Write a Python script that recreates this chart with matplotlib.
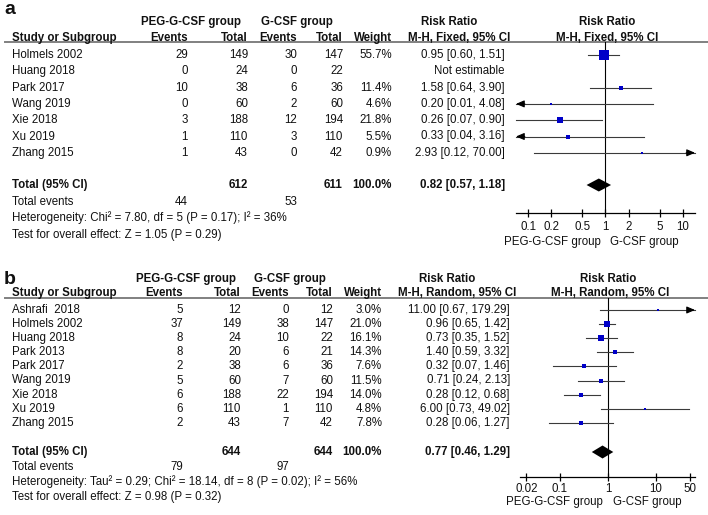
import numpy as np
import matplotlib
matplotlib.use('Agg')
import matplotlib.pyplot as plt
from matplotlib.ticker import NullLocator

plt.rcParams['font.family'] = ['Liberation Sans', 'DejaVu Sans']

W, H = 708, 515
FS = 8.3
BLUE = '#0000c8'
LINE = '#3a3a3a'

# ---- panel a : fixed effect ----
studies_a = ['Holmels 2002', 'Huang 2018', 'Park 2017', 'Wang 2019', 'Xie 2018', 'Xu 2019', 'Zhang 2015']
peg_events_a = [29, 0, 10, 0, 3, 1, 1]
peg_total_a = [149, 24, 38, 60, 188, 110, 43]
gcsf_events_a = [30, 0, 6, 2, 12, 3, 0]
gcsf_total_a = [147, 22, 36, 60, 194, 110, 42]
weight_a = [55.7, None, 11.4, 4.6, 21.8, 5.5, 0.9]
rr_a = [0.95, None, 1.58, 0.20, 0.26, 0.33, 2.93]
lo_a = [0.60, None, 0.64, 0.01, 0.07, 0.04, 0.12]
hi_a = [1.51, None, 3.90, 4.08, 0.90, 3.16, 70.00]
total_a = (0.82, 0.57, 1.18)
het_a = 'Heterogeneity: Chi\u00b2 = 7.80, df = 5 (P = 0.17); I\u00b2 = 36%'
test_a = 'Test for overall effect: Z = 1.05 (P = 0.29)'
ticks_a = [0.1, 0.2, 0.5, 1, 2, 5, 10]
ticklabels_a = ['0.1', '0.2', '0.5', '1', '2', '5', '10']

# ---- panel b : random effects ----
studies_b = ['Ashrafi  2018', 'Holmels 2002', 'Huang 2018', 'Park 2013', 'Park 2017',
             'Wang 2019', 'Xie 2018', 'Xu 2019', 'Zhang 2015']
peg_events_b = [5, 37, 8, 8, 2, 5, 6, 6, 2]
peg_total_b = [12, 149, 24, 20, 38, 60, 188, 110, 43]
gcsf_events_b = [0, 38, 10, 6, 6, 7, 22, 1, 7]
gcsf_total_b = [12, 147, 22, 21, 36, 60, 194, 110, 42]
weight_b = [3.0, 21.0, 16.1, 14.3, 7.6, 11.5, 14.0, 4.8, 7.8]
rr_b = [11.00, 0.96, 0.73, 1.40, 0.32, 0.71, 0.28, 6.00, 0.28]
lo_b = [0.67, 0.65, 0.35, 0.59, 0.07, 0.24, 0.12, 0.73, 0.06]
hi_b = [179.29, 1.42, 1.52, 3.32, 1.46, 2.13, 0.68, 49.02, 1.27]
total_b = (0.77, 0.46, 1.29)
het_b = 'Heterogeneity: Tau\u00b2 = 0.29; Chi\u00b2 = 18.14, df = 8 (P = 0.02); I\u00b2 = 56%'
test_b = 'Test for overall effect: Z = 0.98 (P = 0.32)'
ticks_b = [0.02, 0.1, 1, 10, 50]
ticklabels_b = ['0.02', '0.1', '1', '10', '50']

fig = plt.figure(figsize=(W / 100, H / 100), dpi=100)
bg = fig.add_axes([0, 0, 1, 1])
bg.set_xlim(0, W)
bg.set_ylim(H, 0)
bg.axis('off')


def txt(x, y, s, ha='right', bold=False, size=FS):
    bg.text(x, y, s, ha=ha, va='center', fontsize=size,
            fontweight='bold' if bold else 'normal', color='#111111')


def panel(letter, L, studies, pe, pt, ge, gt, wt, rr, lo, hi, tot, het, test, method,
          ticks, ticklabels, xlim):
    c = L['cols']
    txt(4, L['letter'], letter, ha='left', bold=True, size=14)
    txt(L['g1'], L['h1'], 'PEG-G-CSF group', ha='center', bold=True)
    txt(L['g2'], L['h1'], 'G-CSF group', ha='center', bold=True)
    txt(L['rr1'], L['h1'], 'Risk Ratio', ha='center', bold=True)
    txt(L['rr2'], L['h1'], 'Risk Ratio', ha='center', bold=True)
    txt(12, L['h2'], 'Study or Subgroup', ha='left', bold=True)
    for x, s in zip(c[:5], ['Events', 'Total', 'Events', 'Total', 'Weight']):
        txt(x, L['h2'], s, bold=True)
    txt(L['mh1'], L['h2'], method, ha='center', bold=True)
    txt(L['mh2'], L['h2'], method, ha='center', bold=True)
    bg.plot([5, W], [L['rule'], L['rule']], color='#808080', lw=1.4)

    # forest axes, y in the same pixel units as the text
    x0, x1, ay = L['ax0'], L['ax1'], L['axis']
    ax = fig.add_axes([x0 / W, 1 - ay / H, (x1 - x0) / W, (ay - L['rule']) / H])
    ax.set_xscale('log')
    ax.set_xlim(xlim)
    ax.set_ylim(ay, L['rule'])
    ax.patch.set_alpha(0)
    for s in ['top', 'left', 'right']:
        ax.spines[s].set_visible(False)
    ax.spines['bottom'].set_linewidth(0.9)
    ax.set_yticks([])
    ax.set_xticks(ticks)
    ax.set_xticklabels(ticklabels)
    ax.xaxis.set_minor_locator(NullLocator())
    ax.tick_params(axis='x', direction='inout', length=6, width=0.9, pad=L['pad'],
                   labelsize=FS, labelcolor='#111111')
    ax.axvline(1, color='k', lw=0.8)

    for i, name in enumerate(studies):
        y = L['row0'] + i * L['dy']
        txt(12, y, name, ha='left')
        txt(c[0], y, str(pe[i]))
        txt(c[1], y, str(pt[i]))
        txt(c[2], y, str(ge[i]))
        txt(c[3], y, str(gt[i]))
        if rr[i] is None:
            txt(c[5], y, 'Not estimable')
            continue
        txt(c[4], y, '%.1f%%' % wt[i])
        txt(c[5], y, '%.2f [%.2f, %.2f]' % (rr[i], lo[i], hi[i]))
        a = max(lo[i], xlim[0])
        b = min(hi[i], xlim[1])
        ax.plot([a, b], [y, y], color=LINE, lw=0.8, clip_on=False)
        head = dict(arrowstyle='-|>,head_length=0.7,head_width=0.3', color='k',
                    lw=0.8, mutation_scale=7, shrinkA=0, shrinkB=0)
        if lo[i] < xlim[0]:
            ax.annotate('', xy=(xlim[0], y), xytext=(xlim[0] * 1.3, y), arrowprops=head,
                        annotation_clip=False)
        if hi[i] > xlim[1]:
            ax.annotate('', xy=(xlim[1], y), xytext=(xlim[1] / 1.3, y), arrowprops=head,
                        annotation_clip=False)
        side = max(2.0, 1.3 * np.sqrt(wt[i])) * 0.72
        ax.scatter([rr[i]], [y], marker='s', s=side ** 2, color=BLUE, linewidths=0,
                   zorder=3, clip_on=False)

    # totals
    ty = L['tot']
    txt(12, ty, 'Total (95% CI)', ha='left', bold=True)
    txt(c[1], ty, str(sum(pt)), bold=True)
    txt(c[3], ty, str(sum(gt)), bold=True)
    txt(c[4], ty, '100.0%', bold=True)
    txt(c[5], ty, '%.2f [%.2f, %.2f]' % tot, bold=True)
    est, dlo, dhi = tot
    ax.fill([dlo, est, dhi, est], [ty, ty - 6.5, ty, ty + 6.5], color='k', lw=0, zorder=3)

    txt(12, L['ev'], 'Total events', ha='left')
    txt(c[0], L['ev'], str(sum(pe)))
    txt(c[2], L['ev'], str(sum(ge)))
    txt(12, L['het'], het, ha='left')
    txt(12, L['test'], test, ha='left')

    one = x0 + (x1 - x0) * (0 - np.log10(xlim[0])) / (np.log10(xlim[1]) - np.log10(xlim[0]))
    txt(one - 5, L['leg'], 'PEG-G-CSF group', ha='right')
    txt(one + 5, L['leg'], 'G-CSF group', ha='left')


layout_a = dict(letter=10, h1=22, h2=38, rule=42, row0=55, dy=16.3,
                tot=185, ev=202, het=218, test=235, leg=242, pad=3.0,
                cols=[188, 248, 297, 343, 392, 505],
                g1=191, g2=297, rr1=449, rr2=607, mh1=459, mh2=607,
                ax0=516, ax1=695, axis=213)
layout_b = dict(letter=280, h1=279, h2=293, rule=298, row0=310, dy=14.1,
                tot=452, ev=467, het=482, test=497, leg=502, pad=1.2,
                cols=[183, 241, 289, 333, 382, 510],
                g1=186, g2=290, rr1=447, rr2=608, mh1=457, mh2=610,
                ax0=520, ax1=695, axis=477)

panel('a', layout_a, studies_a, peg_events_a, peg_total_a, gcsf_events_a, gcsf_total_a,
      weight_a, rr_a, lo_a, hi_a, total_a, het_a, test_a, 'M-H, Fixed, 95% CI',
      ticks_a, ticklabels_a, (0.07, 14.3))
panel('b', layout_b, studies_b, peg_events_b, peg_total_b, gcsf_events_b, gcsf_total_b,
      weight_b, rr_b, lo_b, hi_b, total_b, het_b, test_b, 'M-H, Random, 95% CI',
      ticks_b, ticklabels_b, (0.0147, 65))

fig.savefig('out.png', dpi=100)
